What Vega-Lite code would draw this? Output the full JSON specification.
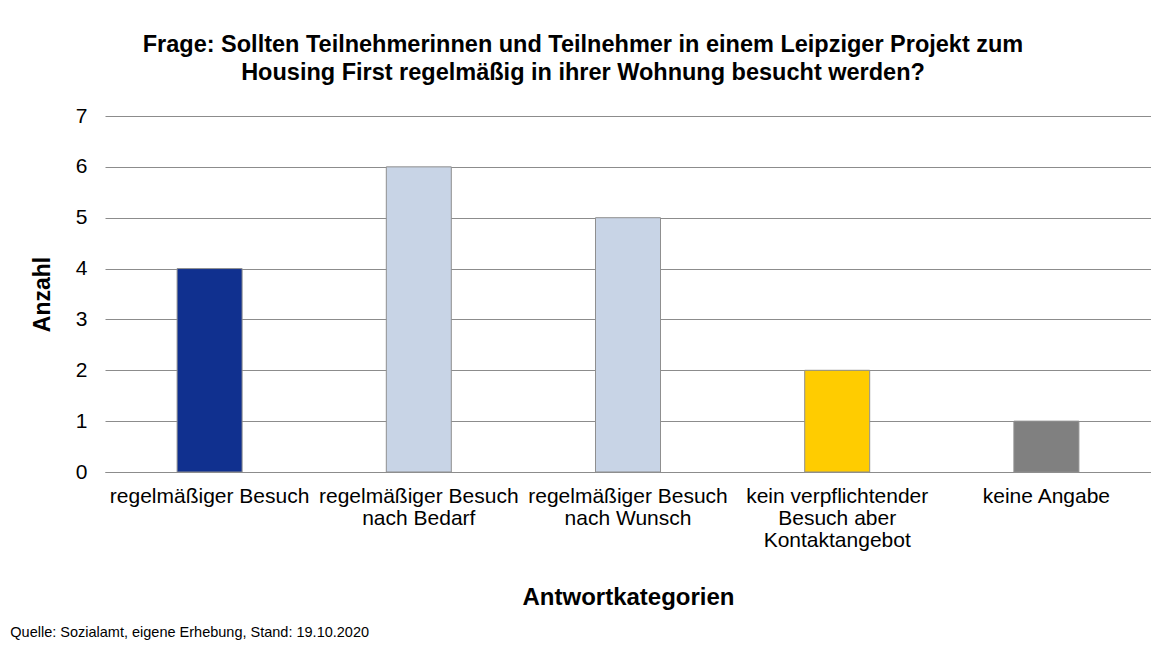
{
  "$schema": "https://vega.github.io/schema/vega-lite/v6.json",
  "autosize": {"type": "pad"},
  "padding": {"left": 10, "top": 32, "right": 0, "bottom": 0},
  "background": "white",
  "title": {
    "text": "Quelle: Sozialamt, eigene Erhebung, Stand: 19.10.2020",
    "orient": "bottom",
    "anchor": "start",
    "fontSize": 14.5,
    "fontWeight": "normal",
    "color": "#000000",
    "dx": -21,
    "offset": 17
  },
  "vconcat": [
    {
      "width": 1046,
      "height": 356,
      "title": {
        "text": ["Frage: Sollten Teilnehmerinnen und Teilnehmer in einem Leipziger Projekt zum", "Housing First regelmäßig in ihrer Wohnung besucht werden?"],
        "fontSize": 23.5,
        "fontWeight": "bold",
        "lineHeight": 28,
        "offset": 21,
        "dx": -45,
        "anchor": "middle",
        "color": "#000000"
      },
      "data": {
        "values": [
          {"kategorie": "regelmäßiger Besuch", "anzahl": 4},
          {"kategorie": "regelmäßiger Besuch|nach Bedarf", "anzahl": 6},
          {"kategorie": "regelmäßiger Besuch|nach Wunsch", "anzahl": 5},
          {"kategorie": "kein verpflichtender|Besuch aber|Kontaktangebot", "anzahl": 2},
          {"kategorie": "keine Angabe", "anzahl": 1}
        ]
      },
      "mark": {"type": "bar", "width": 65, "stroke": "#8f8f8f", "strokeWidth": 1},
      "encoding": {
        "x": {
          "field": "kategorie",
          "type": "nominal",
          "sort": null,
          "scale": {"paddingInner": 0, "paddingOuter": 0},
          "axis": {
            "title": "Antwortkategorien",
            "labelAngle": 0,
            "labelExpr": "split(datum.label, '|')",
            "labelFontSize": 21,
            "labelLineHeight": 22,
            "labelPadding": 13,
            "labelLimit": 400,
            "labelColor": "#000000",
            "labelBaseline": "top",
            "ticks": false,
            "domainColor": "#8c8c8c",
            "titleFontSize": 24,
            "titleFontWeight": "bold",
            "titleColor": "#000000",
            "titlePadding": 35
          }
        },
        "y": {
          "field": "anzahl",
          "type": "quantitative",
          "scale": {"domain": [0, 7], "nice": false},
          "axis": {
            "title": "Anzahl",
            "values": [0, 1, 2, 3, 4, 5, 6, 7],
            "grid": true,
            "gridColor": "#8c8c8c",
            "gridOpacity": 1,
            "domain": false,
            "ticks": false,
            "labelPadding": 18,
            "labelFontSize": 21,
            "labelColor": "#000000",
            "titleFontSize": 23,
            "titleFontWeight": "bold",
            "titleColor": "#000000",
            "titlePadding": 21
          }
        },
        "color": {
          "field": "kategorie",
          "type": "nominal",
          "scale": {
            "domain": ["regelmäßiger Besuch", "regelmäßiger Besuch|nach Bedarf", "regelmäßiger Besuch|nach Wunsch", "kein verpflichtender|Besuch aber|Kontaktangebot", "keine Angabe"],
            "range": ["#10308f", "#c8d4e6", "#c8d4e6", "#ffcc00", "#808080"]
          },
          "legend": null
        }
      }
    }
  ],
  "config": {
    "font": "Liberation Sans",
    "view": {"stroke": null},
    "axis": {"labelFont": "Liberation Sans", "titleFont": "Liberation Sans"},
    "title": {"font": "Liberation Sans"}
  }
}
